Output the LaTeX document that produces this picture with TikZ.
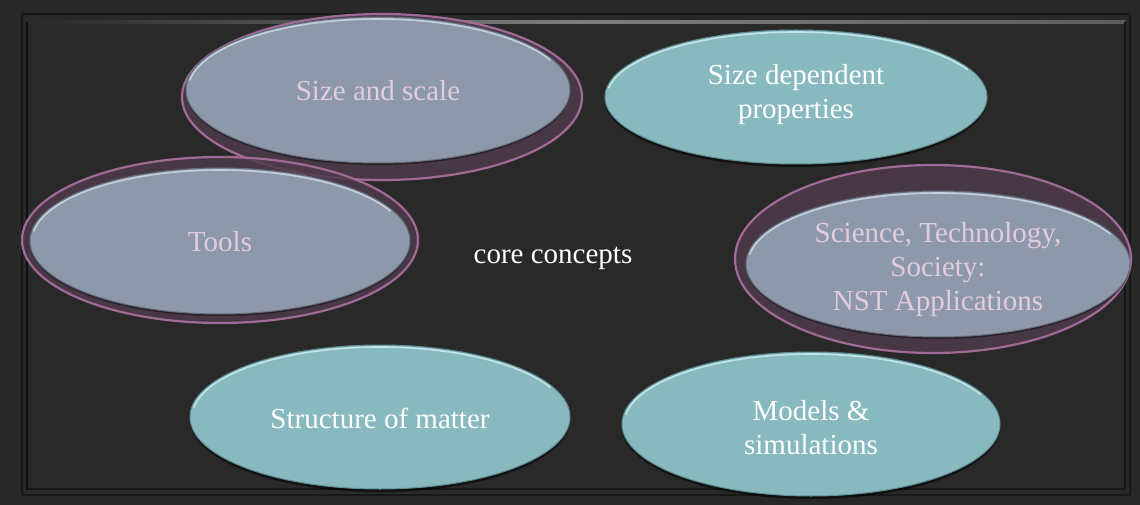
\documentclass[tikz,border=0pt]{standalone}
\usepackage{fontspec}
\setmainfont{Liberation Serif}
\usetikzlibrary{shapes.geometric,shadows}

\definecolor{frameout}{HTML}{282828}
\definecolor{panel}{HTML}{292929}
\definecolor{panelline}{HTML}{181818}
\definecolor{bevel}{HTML}{7E7E7E}
\definecolor{tealfill}{HTML}{88B9BF}
\definecolor{tealedge}{HTML}{C2E6EA}
\definecolor{tealdark}{HTML}{5E8D93}
\definecolor{slatefill}{HTML}{8D99AA}
\definecolor{slateedge}{HTML}{C3D1DD}
\definecolor{slatedark}{HTML}{646B7A}
\definecolor{ringfill}{HTML}{4E3B4C}
\definecolor{ringline}{HTML}{A16A97}
\definecolor{pinktext}{HTML}{E3CCDD}

\tikzset{
  bubbletext/.style={font=\fontsize{29}{34}\selectfont, align=center},
  tealbubble/.style={ellipse, inner sep=0pt, fill=tealfill, draw=tealdark, line width=1pt,
    text=white, bubbletext,
    drop shadow={shadow xshift=0pt, shadow yshift=-3pt, opacity=0.55, fill=black}},
  slatebubble/.style={ellipse, inner sep=0pt, fill=slatefill, draw=slatedark, line width=1pt,
    text=pinktext, bubbletext,
    drop shadow={shadow xshift=0pt, shadow yshift=-2pt, opacity=0.45, fill=black}},
  ring/.style={ellipse, inner sep=0pt, fill=ringfill, fill opacity=0.85,
    draw=ringline, line width=2.2pt},
  glint/.style={line width=1.6pt, line cap=round},
}

% light bevel along the upper rim of a bubble: node, half width, half height, colour
\newcommand{\rimlight}[4]{%
  \draw[glint, #4] (#1.center) ++(172:#2 and #3)
    arc[start angle=172, end angle=25, x radius=#2, y radius=#3];}

\begin{document}
\begin{tikzpicture}[x=1pt,y=-1pt]
\useasboundingbox (0,0) rectangle (1140,505);

% framed dark panel
\fill[frameout] (0,0) rectangle (1140,505);
\fill[panel] (22,14) rectangle (1130,495);
\draw[panelline, line width=1.2pt] (22,495) -- (22,14) -- (1130,14);
\draw[panelline, line width=1.2pt] (22,495) -- (1130,495) -- (1130,14);
\shade[left color=panel, right color=bevel!60!panel, middle color=bevel]
  (30,21) rectangle (1125,24);
\draw[black!60!panel, line width=2pt] (27,22) -- (27,490);
\draw[black!45!panel, line width=2pt] (28,489) -- (1125,489);
\draw[black!45!panel, line width=2pt] (1125,22) -- (1125,489);

% outer rings behind the highlighted concepts
\node[ring, minimum width=400pt, minimum height=166pt] (scaleRing) at (382,97) {};
\node[ring, minimum width=396pt, minimum height=166pt] (toolsRing) at (220,240) {};
\node[ring, minimum width=396pt, minimum height=188pt] (stsRing) at (933,259) {};

% concept bubbles (shapes first, labels placed separately)
\node[slatebubble, minimum width=384pt, minimum height=146pt] (scale) at (378,90) {};
\node[slatebubble, minimum width=380pt, minimum height=146pt] (tools) at (220,241) {};
\node[slatebubble, minimum width=384pt, minimum height=146pt] (sts) at (938,264) {};
\node[tealbubble, minimum width=382pt, minimum height=134pt] (sizeprop) at (796,97) {};
\node[tealbubble, minimum width=380pt, minimum height=144pt] (matter) at (380,417) {};
\node[tealbubble, minimum width=378pt, minimum height=144pt] (models) at (811,424) {};

\rimlight{scale}{190pt}{71pt}{slateedge}
\rimlight{tools}{188pt}{71pt}{slateedge}
\rimlight{sts}{190pt}{71pt}{slateedge}
\rimlight{sizeprop}{189pt}{65pt}{tealedge}
\rimlight{matter}{188pt}{70pt}{tealedge}
\rimlight{models}{187pt}{70pt}{tealedge}

% labels
\node[bubbletext, text=pinktext] (scaleText) at (378,91) {Size and scale};
\node[bubbletext, text=pinktext] (toolsText) at (220,242) {Tools};
\node[bubbletext, text=pinktext] (stsText) at (938,270)
  {Science, Technology,\\Society:\\NST Applications};
\node[bubbletext, text=white] (sizepropText) at (796,95) {Size dependent\\properties};
\node[bubbletext, text=white] (matterText) at (380,418) {Structure of matter};
\node[bubbletext, text=white] (modelsText) at (811,428) {Models \&\\simulations};

% centre label
\node[text=white, font=\fontsize{29}{34}\selectfont] (core) at (553,258) {core concepts};
\end{tikzpicture}
\end{document}
